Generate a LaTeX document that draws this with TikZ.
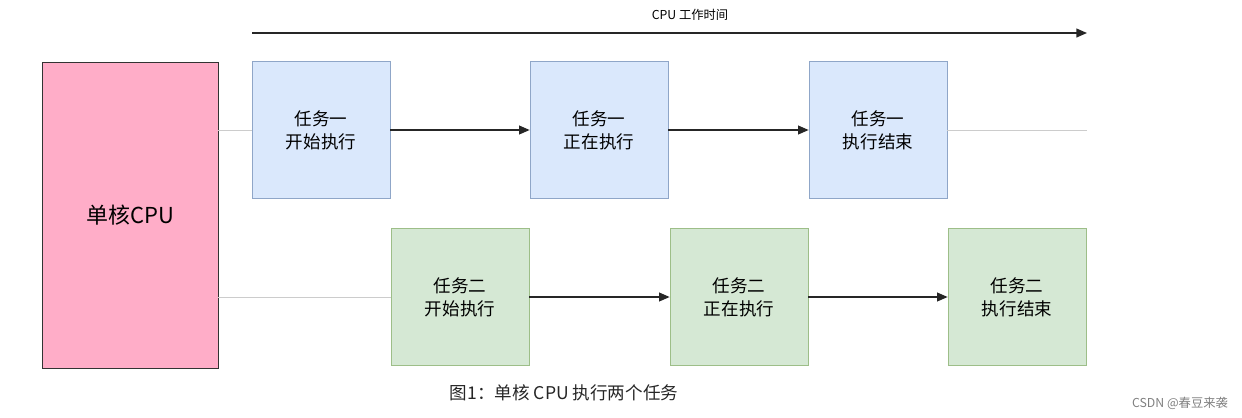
\documentclass[tikz,border=0pt]{standalone}
\usepackage{fontspec}
\newfontfamily\cjk{Noto Sans CJK SC}
\usetikzlibrary{arrows.meta}
\definecolor{cpupink}{HTML}{FFADC8}
\definecolor{taskblue}{HTML}{DAE8FC}
\definecolor{taskgreen}{HTML}{D5E8D4}
\definecolor{blueline}{HTML}{8FA6C8}
\definecolor{greenline}{HTML}{9DBE88}
\tikzset{
  cpubox/.style={draw=black!80, fill=cpupink, minimum width=3.52cm, minimum height=6.12cm, font=\cjk\fontsize{12.5}{14}\selectfont},
  taskone/.style={draw=blueline, fill=taskblue, minimum width=2.76cm, minimum height=2.74cm, align=center, font=\cjk\fontsize{10}{13}\selectfont},
  tasktwo/.style={draw=greenline, fill=taskgreen, minimum width=2.76cm, minimum height=2.74cm, align=center, font=\cjk\fontsize{10}{13}\selectfont},
  flow/.style={-{Triangle[length=6pt,width=5pt]}, thick, black!85},
  idle/.style={draw=black!20}
}
\begin{document}
\begin{tikzpicture}[x=0.02cm, y=-0.02cm]
\useasboundingbox (0,0) rectangle (1242,417);
% the core
\node[cpubox] (cpu) at (130,215) {单核CPU};

% first task
\node[taskone] (a1) at (321,130) {任务一\\开始执行};
\node[taskone] (a2) at (599,130) {任务一\\正在执行};
\node[taskone] (a3) at (878,130) {任务一\\执行结束};

% second task
\node[tasktwo] (b1) at (460,297) {任务二\\开始执行};
\node[tasktwo] (b2) at (739,297) {任务二\\正在执行};
\node[tasktwo] (b3) at (1017,297) {任务二\\执行结束};

% links
\draw[idle] (cpu.east |- a1) -- (a1);
\draw[idle] (cpu.east |- b1) -- (b1);
\coordinate (aend) at (1087,130);
\draw[idle] (a3) -- (aend);
\draw[flow] (a1) -- (a2);
\draw[flow] (a2) -- (a3);
\draw[flow] (b1) -- (b2);
\draw[flow] (b2) -- (b3);

% time axis
\coordinate (t0) at (252,33);
\coordinate (t1) at (1087,33);
\draw[flow] (t0) -- (t1);
\node[font=\cjk\fontsize{7}{8}\selectfont] (tlabel) at (690,15) {CPU 工作时间};

% caption
\node[font=\cjk\fontsize{10}{12}\selectfont, text=black!85] (cap) at (564,393) {图1：单核 CPU 执行两个任务};
\node[font=\cjk\fontsize{7}{8}\selectfont, text=black!50] (mark) at (1180,403) {CSDN @春豆来袭};
\end{tikzpicture}
\end{document}
